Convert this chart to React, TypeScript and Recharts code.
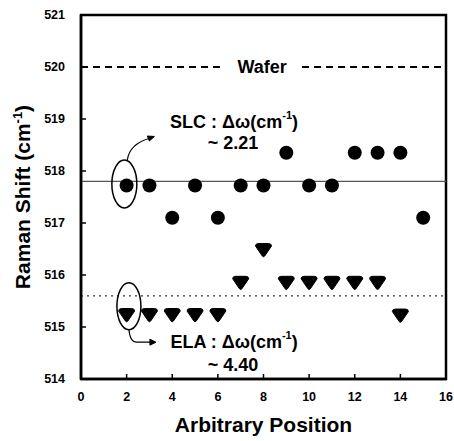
import React from 'react';
import {
  ScatterChart, Scatter, XAxis, YAxis, ReferenceLine, ReferenceDot, ReferenceArea,
} from 'recharts';

const slcPositions = [2, 3, 4, 5, 6, 7, 8, 9, 10, 11, 12, 13, 14, 15];
const slcValues = [517.72, 517.72, 517.1, 517.72, 517.1, 517.72, 517.72, 518.35, 517.72, 517.72, 518.35, 518.35, 518.35, 517.1];
const elaPositions = [2, 3, 4, 5, 6, 7, 8, 9, 10, 11, 12, 13, 14];
const elaValues = [515.23, 515.23, 515.23, 515.23, 515.23, 515.85, 516.48, 515.85, 515.85, 515.85, 515.85, 515.85, 515.22];
const xTicks = [0, 2, 4, 6, 8, 10, 12, 14, 16];
const yTicks = [514, 515, 516, 517, 518, 519, 520, 521];
const xDomain = [0, 16];
const yDomain = [514, 521];
const slcMean = 517.8;
const elaMean = 515.6;
const waferValue = 520;
const waferGap = [6.09, 9.69];

const slcData = slcPositions.map((x, i) => ({ x, y: slcValues[i] }));
const elaData = elaPositions.map((x, i) => ({ x, y: elaValues[i] }));

const FONT = '"Liberation Sans", Arial, Helvetica, sans-serif';

const Circle = (props: any) => <circle cx={props.cx} cy={props.cy} r={7} fill="#000" />;
const Tri = (props: any) => {
  const { cx, cy } = props;
  const d = `M${cx - 8},${cy - 4} Q${cx - 8},${cy - 6.5} ${cx - 5},${cy - 6.5} L${cx + 5},${cy - 6.5} Q${cx + 8},${cy - 6.5} ${cx + 8},${cy - 4} L${cx + 1.2},${cy + 6} Q${cx},${cy + 7.5} ${cx - 1.2},${cy + 6} Z`;
  return <path d={d} fill="#000" stroke="#000" strokeWidth={1} strokeLinejoin="round" />;
};

const SlcEllipse = (props: any) => {
  const { cx, cy } = props;
  return (
    <g fill="none" stroke="#000" strokeWidth={1.5}>
      <ellipse cx={cx} cy={cy} rx={12.5} ry={24} />
      <path d={`M${cx + 3},${cy - 24} Q${cx + 5},${cy - 40} ${cx + 26},${cy - 46}`} strokeWidth={1.2} />
      <path d={`M${cx + 30},${cy - 47.5} L${cx + 23},${cy - 48} L${cx + 25},${cy - 43} Z`} fill="#000" strokeWidth={1} />
    </g>
  );
};
const ElaEllipse = (props: any) => {
  const { cx, cy } = props;
  return (
    <g fill="none" stroke="#000" strokeWidth={1.5}>
      <ellipse cx={cx} cy={cy} rx={12} ry={23.5} />
      <path d={`M${cx},${cy + 23} Q${cx + 1},${cy + 36} ${cx + 8},${cy + 36} L${cx + 22},${cy + 36}`} strokeWidth={1.2} />
      <path d={`M${cx + 27},${cy + 36} L${cx + 21},${cy + 33} L${cx + 21},${cy + 39} Z`} fill="#000" strokeWidth={1} />
    </g>
  );
};

const mkLabel = (name: string) => (props: any) => (
  <text x={props.cx} y={props.cy} textAnchor="middle" dominantBaseline="central" fontFamily={FONT} fontWeight="bold" fontSize={18} fill="#000">
    {name} : Δω(cm<tspan dy={-7} fontSize={11}>-1</tspan><tspan dy={7}>)</tspan>
  </text>
);
const mkText = (t: string) => (props: any) => (
  <text x={props.cx} y={props.cy} textAnchor="middle" dominantBaseline="central" fontFamily={FONT} fontWeight="bold" fontSize={18} fill="#000">
    {t}
  </text>
);

const YLabel = (props: any) => {
  const vb = props.viewBox || { x: 0, y: 15, width: 81, height: 364 };
  const cx = 30;
  const cy = vb.y + vb.height / 2;
  return (
    <text transform={`rotate(-90, ${cx}, ${cy})`} x={cx} y={cy} textAnchor="middle" fontFamily={FONT} fontWeight="bold" fontSize={21} fill="#000">
      Raman Shift (cm<tspan dy={-8} fontSize={13}>-1</tspan><tspan dy={8}>)</tspan>
    </text>
  );
};
const XLabel = (props: any) => {
  const vb = props.viewBox || { x: 81, y: 379, width: 365, height: 62 };
  return (
    <text x={vb.x + vb.width / 2} y={432} textAnchor="middle" fontFamily={FONT} fontWeight="bold" fontSize={21} fill="#000">
      Arbitrary Position
    </text>
  );
};

const XTick = (props: any) => {
  const { x, y, payload } = props;
  return (
    <g>
      <line x1={x} x2={x} y1={y - 12} y2={y - 17} stroke="#000" strokeWidth={1.5} />
      <text x={x} y={y + 6} textAnchor="middle" dominantBaseline="central" fontFamily={FONT} fontWeight="bold" fontSize={12.5} fill="#000">
        {payload.value}
      </text>
    </g>
  );
};
const YTick = (props: any) => {
  const { x, y, payload } = props;
  return (
    <g>
      <line x1={x + 16} x2={x + 21} y1={y} y2={y} stroke="#000" strokeWidth={1.5} />
      <text x={x} y={y} textAnchor="end" dominantBaseline="central" fontFamily={FONT} fontWeight="bold" fontSize={12.5} fill="#000">
        {payload.value}
      </text>
    </g>
  );
};

export default function App() {
  const frame = { stroke: '#000', strokeWidth: 2.5 };
  return (
    <div style={{ position: 'absolute', left: 0, top: 0, width: 454, height: 441, background: '#fff' }}>
      <ScatterChart width={454} height={441} margin={{ top: 15, right: 8, bottom: 0, left: 0 }}>
        <XAxis
          type="number" dataKey="x" domain={xDomain} ticks={xTicks} interval={0}
          height={62} tickSize={0} tickMargin={12}
          axisLine={frame} stroke="#000"
          tickLine={false}
          tick={<XTick />}
          label={<XLabel />}
        />
        <YAxis
          type="number" dataKey="y" domain={yDomain} ticks={yTicks} interval={0}
          width={81} tickSize={0} tickMargin={16}
          axisLine={frame} stroke="#000"
          tickLine={false}
          tick={<YTick />}
          label={<YLabel />}
        />
        <ReferenceArea x1={xDomain[0]} x2={xDomain[1]} y1={yDomain[0]} y2={yDomain[1]} fill="none" fillOpacity={0} stroke="#000" strokeWidth={2.5} strokeOpacity={1} ifOverflow="visible" />
        <ReferenceLine segment={[{ x: 0, y: waferValue }, { x: waferGap[0], y: waferValue }]} stroke="#000" strokeWidth={1.8} strokeDasharray="7 5" ifOverflow="visible" />
        <ReferenceLine segment={[{ x: waferGap[1], y: waferValue }, { x: 16, y: waferValue }]} stroke="#000" strokeWidth={1.8} strokeDasharray="7 5" ifOverflow="visible" />
        <ReferenceLine y={slcMean} stroke="#555" strokeWidth={1.2} />
        <ReferenceLine y={elaMean} stroke="#333" strokeWidth={1.3} strokeDasharray="2 4" />
        <Scatter data={slcData} shape={Circle} isAnimationActive={false} />
        <Scatter data={elaData} shape={Tri} isAnimationActive={false} />
        <ReferenceDot x={1.9} y={517.75} r={1} shape={SlcEllipse} />
        <ReferenceDot x={2.1} y={515.4} r={1} shape={ElaEllipse} />
        <ReferenceDot x={7.94} y={520} r={1} shape={mkText('Wafer')} />
        <ReferenceDot x={6.71} y={518.94} r={1} shape={mkLabel('SLC')} />
        <ReferenceDot x={6.66} y={518.54} r={1} shape={mkText('~ 2.21')} />
        <ReferenceDot x={6.71} y={514.71} r={1} shape={mkLabel('ELA')} />
        <ReferenceDot x={6.66} y={514.27} r={1} shape={mkText('~ 4.40')} />
      </ScatterChart>
    </div>
  );
}
